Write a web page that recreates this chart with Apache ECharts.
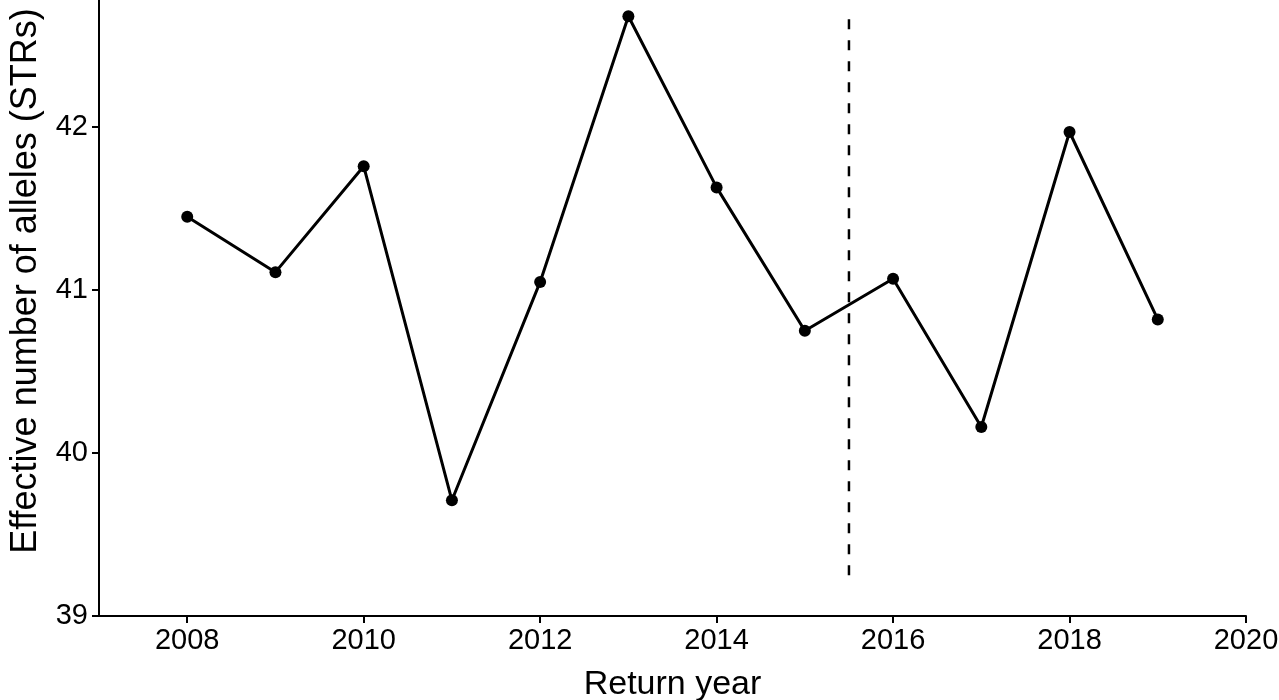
<!DOCTYPE html>
<html>
<head>
<meta charset="utf-8">
<script src="https://cdn.jsdelivr.net/npm/echarts@6/dist/echarts.min.js"></script>
<style>
  html, body { margin: 0; padding: 0; background: #fff; }
  #chart { width: 1279px; height: 700px; }
</style>
</head>
<body>
<div id="chart"></div>
<script>
// Return years and the effective number of alleles estimated from STR markers
const years = [2008, 2009, 2010, 2011, 2012, 2013, 2014, 2015, 2016, 2017, 2018, 2019];
const alleles = [41.45, 41.11, 41.76, 39.71, 41.05, 42.68, 41.63, 40.75, 41.07, 40.16, 41.97, 40.82];

// Vertical dashed divider between the two periods
const dividerYear = 2015.5;
const dividerRange = [39.25, 42.70];

// Tick positions
const xTicks = [2008, 2010, 2012, 2014, 2016, 2018, 2020];
const yTicks = [39, 40, 41, 42];

const font = 'Liberation Sans, Arial, sans-serif';
const ink = '#000';

const chart = echarts.init(document.getElementById('chart'), null, { renderer: 'canvas' });

chart.setOption({
  animation: false,
  backgroundColor: '#fff',
  grid: { left: 99, right: 33, top: 0, bottom: 84, containLabel: false, outerBoundsMode: 'none' },
  xAxis: {
    type: 'value',
    min: 2007,
    max: 2020,
    name: 'Return year',
    nameLocation: 'middle',
    nameGap: 52,
    nameTextStyle: { fontFamily: font, fontSize: 34, color: ink },
    axisLine: { show: true, onZero: false, lineStyle: { color: ink, width: 2 } },
    axisTick: { show: true, length: 7, lineStyle: { color: ink, width: 2 }, customValues: xTicks },
    axisLabel: {
      fontFamily: font, fontSize: 29, color: ink, margin: 10, customValues: xTicks,
      formatter: v => String(v)
    },
    splitLine: { show: false }
  },
  yAxis: {
    type: 'value',
    min: 39,
    max: 42.78,
    name: 'Effective number of alleles (STRs)',
    nameLocation: 'middle',
    nameGap: 55,
    nameTextStyle: { fontFamily: font, fontSize: 36, color: ink, padding: [0, 0, 0, 54] },
    axisLine: { show: true, onZero: false, lineStyle: { color: ink, width: 2 } },
    axisTick: { show: true, length: 7, lineStyle: { color: ink, width: 2 }, customValues: yTicks },
    axisLabel: { fontFamily: font, fontSize: 29, color: ink, margin: 11, customValues: yTicks },
    splitLine: { show: false }
  },
  series: [
    {
      type: 'line',
      data: years.map((y, i) => [y, alleles[i]]),
      symbol: 'circle',
      symbolSize: 12,
      itemStyle: { color: ink },
      lineStyle: { color: ink, width: 3 },
      z: 3
    },
    {
      type: 'line',
      data: dividerRange.map(v => [dividerYear, v]),
      symbol: 'none',
      lineStyle: { color: ink, width: 2.5, type: [10, 11] },
      z: 2
    }
  ]
});
</script>
</body>
</html>
